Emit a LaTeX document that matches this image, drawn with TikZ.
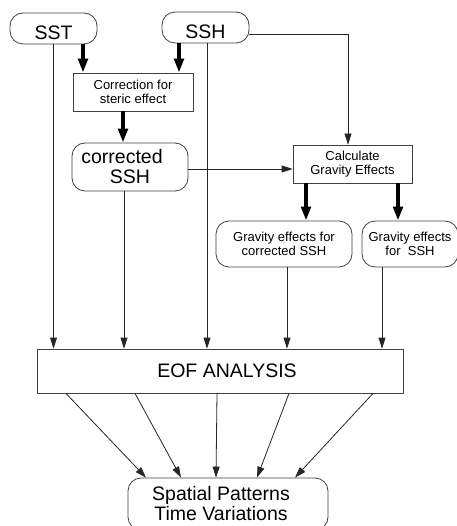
\documentclass[tikz,border=0pt]{standalone}
\usepackage{fontspec}
\setmainfont{Liberation Sans}
\usetikzlibrary{arrows.meta}
\begin{document}
\begin{tikzpicture}[x=1pt,y=-1pt,
  box/.style={draw=black!75, line width=0.8pt, align=center, inner sep=0pt},
  rbox/.style={box, rounded corners=13pt},
  big/.style={font=\fontsize{19.5}{20}\selectfont},
  small/.style={font=\fontsize{13}{13.5}\selectfont},
  tarrow/.style={draw=black!85, line width=0.8pt, -{Triangle[length=11pt,width=7pt]}},
  fat/.style={draw=black, line width=4pt, -{Triangle[length=14pt,width=9.5pt]}},
]
\useasboundingbox (0,0) rectangle (456,526);

\node[rbox,big,minimum width=87pt,minimum height=31pt,text height=22pt,text depth=0pt] (sst) at (53.5,28.5) {SST};
\node[rbox,big,minimum width=87pt,minimum height=31pt,text height=22pt,text depth=0pt] (ssh) at (205.5,27.5) {SSH};
\node[box,small,minimum width=120pt,minimum height=38pt] (corr) at (133,92) {Correction for\\steric effect};
\node[rbox,big,minimum width=116pt,minimum height=48pt] (csh) at (130,167) {corrected\hspace*{16pt}\\SSH};
\node[box,small,minimum width=119pt,minimum height=38pt] (calc) at (352.5,164) {Calculate\\Gravity Effects};
\node[rbox,small,minimum width=136pt,minimum height=46pt] (gc) at (284,244) {Gravity effects for\\corrected SSH};
\node[rbox,small,minimum width=96pt,minimum height=46pt] (gs) at (410,244) {Gravity effects\\for\ \ SSH};
\node[box,big,minimum width=366pt,minimum height=44pt] (eof) at (220,371) {\hspace*{14pt}EOF ANALYSIS};
\node[rbox,big,minimum width=200pt,minimum height=52pt] (sp) at (228,504) {Spatial Patterns\hspace*{14pt}\\Time Variations\hspace*{14pt}};

% thick arrows
\coordinate (a1) at ([xshift=29.5pt]sst.south);
\coordinate (a2) at ([xshift=-26.5pt]ssh.south);
\coordinate (a3) at ([xshift=-10pt]corr.south);
\coordinate (a4) at ([xshift=-46.5pt]calc.south);
\coordinate (a5) at ([xshift=45.5pt]calc.south);
\draw[fat] (a1) -- (a1 |- corr.north);
\draw[fat] (a2) -- (a2 |- corr.north);
\draw[fat] (a3) -- (a3 |- csh.north);
\draw[fat] (a4) -- (a4 |- gc.north);
\draw[fat] (a5) -- (a5 |- gs.north);

% thin arrows into EOF
\coordinate (b2) at ([xshift=1.5pt]ssh.south);
\coordinate (b3) at ([xshift=-6pt]csh.south);
\coordinate (b4) at ([xshift=3pt]gc.south);
\coordinate (b5) at ([xshift=-28pt]gs.south);
\draw[tarrow] (sst.south) -- (sst.south |- eof.north);
\draw[tarrow] (b2) -- (b2 |- eof.north);
\draw[tarrow] (b3) -- (b3 |- eof.north);
\draw[tarrow] (b4) -- (b4 |- eof.north);
\draw[tarrow] (b5) -- (b5 |- eof.north);

% SSH to calculate
\coordinate (c1) at ([yshift=-6.5pt]ssh.east);
\coordinate (c2) at ([xshift=-4.5pt]calc.north);
\draw[tarrow] (c1) -- (c1 -| c2) -- (c2);

% corrected SSH to calculate
\coordinate (d1) at ([yshift=-2pt]csh.east);
\draw[tarrow] (d1) -- (d1 -| calc.west);

% EOF to spatial patterns
\coordinate (e1) at ([xshift=-154pt]eof.south);
\coordinate (e2) at ([xshift=-85pt]eof.south);
\coordinate (e3) at ([xshift=-3pt]eof.south);
\coordinate (e4) at ([xshift=69pt]eof.south);
\coordinate (e5) at ([xshift=153pt]eof.south);
\coordinate (f1) at ([xshift=-82pt]sp.north);
\coordinate (f2) at ([xshift=-47pt]sp.north);
\coordinate (f3) at ([xshift=-12pt]sp.north);
\coordinate (f4) at ([xshift=29pt]sp.north);
\coordinate (f5) at ([xshift=67pt]sp.north);
\draw[tarrow] (e1) -- (f1);
\draw[tarrow] (e2) -- (f2);
\draw[tarrow] (e3) -- (f3);
\draw[tarrow] (e4) -- (f4);
\draw[tarrow] (e5) -- (f5);
\end{tikzpicture}
\end{document}
